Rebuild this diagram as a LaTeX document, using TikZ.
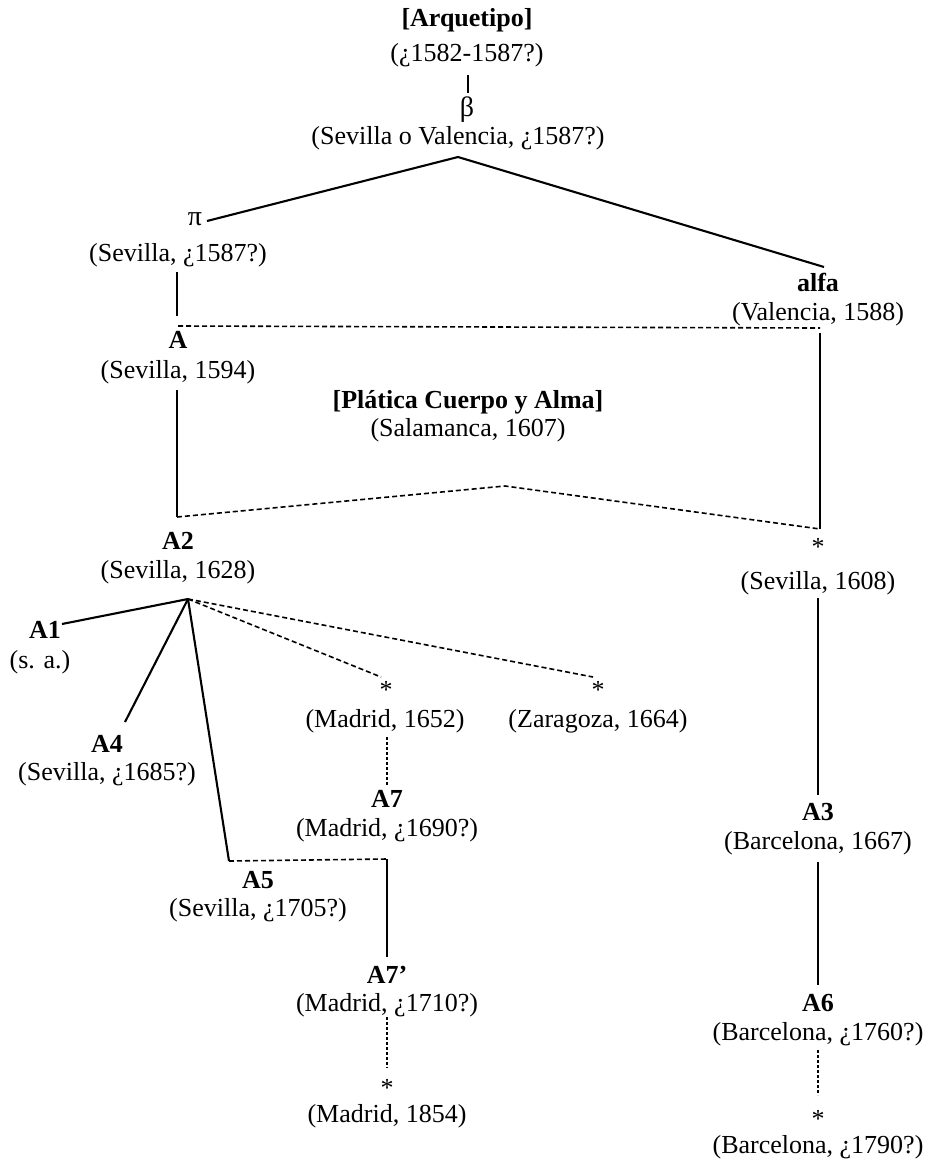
\documentclass[tikz,border=0pt]{standalone}
\usepackage{fontspec}
\setmainfont{Liberation Serif}
\begin{document}
\begin{tikzpicture}[x=1pt,y=-1pt,
  lbl/.style={anchor=base,inner sep=0pt,font=\fontsize{26}{30}\selectfont},
  bl/.style={lbl,font=\fontsize{26}{30}\selectfont\bfseries},
  solidline/.style={line width=2.1pt},
  dashline/.style={line width=1.6pt,dash pattern=on 5pt off 3pt},
  dotline/.style={line width=1.6pt,dash pattern=on 3pt off 2pt}]
\useasboundingbox (0,0) rectangle (935,1160);
% labels
\node[bl]  (arq)   at (467,26)  {[Arquetipo]};
\node[lbl] (arqd)  at (467,61)  {(¿1582-1587?)};
\node[lbl] (beta)  at (467,116) {\fontsize{28}{30}\selectfont β};
\node[lbl] (betad) at (458,144) {(Sevilla o Valencia, ¿1587?)};
\node[lbl] (pi)    at (195,225) {\fontsize{28}{30}\selectfont π};
\node[lbl] (pid)   at (178,261) {(Sevilla, ¿1587?)};
\node[bl]  (alfa)  at (818,291) {alfa};
\node[lbl] (alfad) at (818,320) {(Valencia, 1588)};
\node[bl]  (A)     at (178,348) {A};
\node[lbl] (Ad)    at (178,378) {(Sevilla, 1594)};
\node[bl]  (pl)    at (468,408) {[Plática Cuerpo y Alma]};
\node[lbl] (pld)   at (468,436) {(Salamanca, 1607)};
\node[bl]  (A2)    at (178,549) {A2};
\node[lbl] (A2d)   at (178,578) {(Sevilla, 1628)};
\node[lbl] (sS)    at (818,555) {*};
\node[lbl] (sSd)   at (818,589) {(Sevilla, 1608)};
\node[bl]  (A1)    at (45,638)  {A1};
\node[lbl] (A1d)   at (40,668)  {(s. a.)};
\node[bl]  (A4)    at (107,752) {A4};
\node[lbl] (A4d)   at (107,780) {(Sevilla, ¿1685?)};
\node[lbl] (sM)    at (386,698) {*};
\node[lbl] (sMd)   at (385,727) {(Madrid, 1652)};
\node[lbl] (sZ)    at (598,698) {*};
\node[lbl] (sZd)   at (598,727) {(Zaragoza, 1664)};
\node[bl]  (A7)    at (387,807) {A7};
\node[lbl] (A7d)   at (387,836) {(Madrid, ¿1690?)};
\node[bl]  (A5)    at (258,888) {A5};
\node[lbl] (A5d)   at (258,916) {(Sevilla, ¿1705?)};
\node[bl]  (A7p)   at (387,983) {A7’};
\node[lbl] (A7pd)  at (387,1011) {(Madrid, ¿1710?)};
\node[lbl] (sM2)   at (387,1096) {*};
\node[lbl] (sM2d)  at (387,1122) {(Madrid, 1854)};
\node[bl]  (A3)    at (818,820) {A3};
\node[lbl] (A3d)   at (818,849) {(Barcelona, 1667)};
\node[bl]  (A6)    at (818,1011) {A6};
\node[lbl] (A6d)   at (818,1040) {(Barcelona, ¿1760?)};
\node[lbl] (sB)    at (818,1127) {*};
\node[lbl] (sBd)   at (818,1153) {(Barcelona, ¿1790?)};
% connector points
\coordinate (b1) at (468,75);   \coordinate (b2) at (468,93);
\coordinate (apex) at (458,157); \coordinate (piR) at (207,221); \coordinate (alfaL) at (824,267);
\coordinate (p1) at (177,272);  \coordinate (p2) at (177,316);
\coordinate (dA) at (178,326);  \coordinate (dAl) at (820,328);
\coordinate (alB) at (820,333); \coordinate (sST) at (820,529);
\coordinate (aB) at (177,390);  \coordinate (corner) at (177,517);
\coordinate (plApex) at (505,486);
\coordinate (sSB) at (818,598); \coordinate (A3T) at (818,795);
\coordinate (A3B) at (818,862); \coordinate (A6T) at (818,985);
\coordinate (A6B) at (818,1050); \coordinate (sBT) at (818,1095);
\coordinate (hub) at (188,599);
\coordinate (A1R) at (62,624);  \coordinate (A4T) at (125,722); \coordinate (A5c) at (229,861);
\coordinate (sME) at (381,677); \coordinate (sZE) at (593,677);
\coordinate (sMB) at (387,737); \coordinate (A7T) at (387,785);
\coordinate (A7c) at (387,859); \coordinate (A7pT) at (387,957);
\coordinate (A7pB) at (387,1017); \coordinate (sM2T) at (387,1068);
% connectors
\draw[solidline] (b1) -- (b2);
\draw[solidline] (piR) -- (apex) -- (alfaL);
\draw[solidline] (p1) -- (p2);
\draw[dashline] (dA) -- (dAl);
\draw[solidline] (alB) -- (sST);
\draw[solidline] (aB) -- (corner);
\draw[dashline] (corner) -- (plApex) -- (sST);
\draw[solidline] (sSB) -- (A3T);
\draw[solidline] (A3B) -- (A6T);
\draw[dotline] (A6B) -- (sBT);
\draw[solidline] (A1R) -- (hub);
\draw[solidline] (A4T) -- (hub);
\draw[solidline] (hub) -- (A5c);
\draw[dashline] (hub) -- (sME);
\draw[dashline] (hub) -- (sZE);
\draw[dotline] (sMB) -- (A7T);
\draw[dashline] (A5c) -- (A7c);
\draw[solidline] (A7c) -- (A7pT);
\draw[dotline] (A7pB) -- (sM2T);
\end{tikzpicture}
\end{document}
